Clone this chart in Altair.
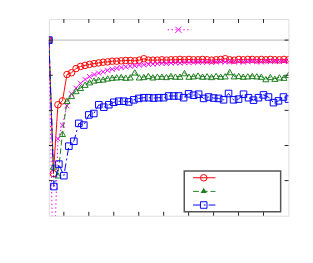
import altair as alt
import pandas as pd

# ---- data ----
red_vals = [5.0, 1.2, 3.16, 3.27, 4.02, 4.07, 4.19, 4.25, 4.28, 4.31,
            4.33, 4.35, 4.37, 4.38, 4.40, 4.40, 4.41, 4.42, 4.42, 4.41,
            4.43, 4.47, 4.43, 4.43, 4.43, 4.44, 4.43, 4.44, 4.44, 4.45,
            4.44, 4.45, 4.44, 4.44, 4.45, 4.44, 4.43, 4.44, 4.45, 4.47,
            4.44, 4.43, 4.45, 4.44, 4.45, 4.45, 4.44, 4.45, 4.44, 4.45,
            4.44, 4.44, 4.45, 4.44]
magenta_vals = [5.0, -2.0, 2.19, 2.58, 3.13, 3.47, 3.63, 3.77, 3.88, 3.96,
                4.02, 4.06, 4.10, 4.14, 4.17, 4.20, 4.22, 4.24, 4.26, 4.27,
                4.29, 4.30, 4.31, 4.32, 4.33, 4.34, 4.34, 4.35, 4.36, 4.35,
                4.37, 4.36, 4.37, 4.38, 4.37, 4.38, 4.37, 4.38, 4.39, 4.38,
                4.39, 4.38, 4.39, 4.38, 4.39, 4.40, 4.39, 4.38, 4.40, 4.39,
                4.40, 4.39, 4.40, 4.39]
green_vals = [5.0, 1.4, 1.15, 2.33, 3.27, 3.41, 3.55, 3.64, 3.73, 3.80,
              3.85, 3.87, 3.88, 3.91, 3.93, 3.94, 3.95, 3.93, 3.94, 4.08,
              3.94, 3.95, 3.98, 3.94, 3.96, 3.96, 3.95, 3.98, 3.96, 3.96,
              4.06, 3.96, 3.97, 3.99, 3.96, 3.97, 3.95, 3.98, 3.96, 3.97,
              4.09, 3.97, 3.98, 3.96, 3.97, 3.98, 3.97, 3.96, 3.89, 3.95,
              3.90, 3.94, 3.93, 4.01]
blue_vals = [5.0, 0.83, 1.47, 1.14, 1.98, 2.12, 2.63, 2.58, 2.87, 2.91,
             3.16, 3.09, 3.16, 3.23, 3.26, 3.26, 3.24, 3.30, 3.34, 3.36,
             3.36, 3.35, 3.36, 3.36, 3.41, 3.41, 3.41, 3.36, 3.47, 3.43,
             3.46, 3.34, 3.38, 3.35, 3.34, 3.30, 3.48, 3.30, 3.32, 3.46,
             3.36, 3.29, 3.36, 3.44, 3.38, 3.22, 3.27, 3.38, 3.32]

x_dense = [k * 48 / 53 for k in range(len(red_vals))]
x_blue = list(range(len(blue_vals)))

x_ticks = [3, 8, 13, 18, 23, 28, 33, 38, 43]
y_ticks = [1, 2, 3, 4, 5]
ref_level = [5]

W, H = 246, 202
XD, YD = [0, 48], [0, 5.6]

xs = alt.Scale(domain=XD, nice=False, zero=False)
ys = alt.Scale(domain=YD, nice=False, zero=False)

XPATH = "M-1,-1L1,1M-1,1L1,-1"


def series(xv, yv, color, dash, shape, filled=False, size=45):
    df = pd.DataFrame({"x": xv, "y": yv})
    base = alt.Chart(df)
    line_kw = dict(color=color, strokeWidth=1, clip=True)
    if dash:
        line_kw["strokeDash"] = dash
    line = base.mark_line(**line_kw).encode(
        x=alt.X("x:Q", scale=xs, axis=None),
        y=alt.Y("y:Q", scale=ys, axis=None),
    )
    pts = base.mark_point(shape=shape, color=color, filled=filled, size=size,
                          strokeWidth=1, opacity=1, clip=True).encode(
        x=alt.X("x:Q", scale=xs, axis=None),
        y=alt.Y("y:Q", scale=ys, axis=None),
    )
    return [line, pts]


RED, GREEN, BLUE, MAG = "#ff0000", "#1e7d1e", "#0000ff", "#ff00ff"

ref = alt.Chart(pd.DataFrame({"r": ref_level})).mark_rule(
    color="#b4b4b4", strokeWidth=1).encode(y=alt.Y("r:Q", scale=ys, axis=None))

layers = [ref]
layers += series(x_dense, red_vals, RED, None, "circle", size=45)
layers += series(x_dense, magenta_vals, MAG, [1.5, 2.5], XPATH, size=28)
layers += series(x_dense, green_vals, GREEN, [6, 3], "triangle-up", size=40)
layers += series(x_blue, blue_vals, BLUE, [8, 3, 2, 3], "square", size=45)

xt = alt.Chart(pd.DataFrame({"t": x_ticks}))
yt = alt.Chart(pd.DataFrame({"t": y_ticks}))
tick_style = dict(color="#222222", strokeWidth=1)
layers += [
    xt.mark_rule(**tick_style).encode(x=alt.X("t:Q", scale=xs, axis=None),
                                      y=alt.value(H), y2=alt.value(H - 4)),
    xt.mark_rule(**tick_style).encode(x=alt.X("t:Q", scale=xs, axis=None),
                                      y=alt.value(0), y2=alt.value(4)),
    yt.mark_rule(**tick_style).encode(y=alt.Y("t:Q", scale=ys, axis=None),
                                      x=alt.value(0), x2=alt.value(4)),
    yt.mark_rule(**tick_style).encode(y=alt.Y("t:Q", scale=ys, axis=None),
                                      x=alt.value(W), x2=alt.value(W - 4)),
]

one = alt.Chart(pd.DataFrame({"a": [0]}))

# detached legend entry for the magenta series (top)
layers += [
    one.mark_rule(color=MAG, strokeWidth=1, strokeDash=[1.5, 2.5]).encode(
        x=alt.value(122), x2=alt.value(145), y=alt.value(11)),
    one.mark_point(shape=XPATH, color=MAG, size=40, strokeWidth=1, opacity=1).encode(
        x=alt.value(133), y=alt.value(11)),
]

# lower-right legend box
layers += [
    one.mark_rect(fill="white", stroke="#555555", strokeWidth=1.5).encode(
        x=alt.value(139), x2=alt.value(238), y=alt.value(156), y2=alt.value(198)),
    one.mark_rule(color=RED, strokeWidth=1).encode(
        x=alt.value(148), x2=alt.value(171), y=alt.value(163)),
    one.mark_point(shape="circle", color=RED, size=45, strokeWidth=1, opacity=1).encode(
        x=alt.value(159), y=alt.value(163)),
    one.mark_rule(color=GREEN, strokeWidth=1, strokeDash=[6, 3]).encode(
        x=alt.value(148), x2=alt.value(171), y=alt.value(177)),
    one.mark_point(shape="triangle-up", color=GREEN, filled=True, size=40, opacity=1).encode(
        x=alt.value(159), y=alt.value(176)),
    one.mark_rule(color=BLUE, strokeWidth=1, strokeDash=[8, 3, 2, 3]).encode(
        x=alt.value(148), x2=alt.value(171), y=alt.value(191)),
    one.mark_point(shape="square", color=BLUE, size=45, strokeWidth=1, opacity=1).encode(
        x=alt.value(159), y=alt.value(191)),
]

chart = alt.layer(*layers).properties(
    width=W, height=H,
    autosize=alt.AutoSizeParams(type="none"),
    padding={"left": 42, "top": 8, "right": 17, "bottom": 37},
).configure_view(stroke="#222222", strokeWidth=1.5).configure(background="white")

chart.save("out.html", embed_options={"renderer": "svg", "actions": False})
